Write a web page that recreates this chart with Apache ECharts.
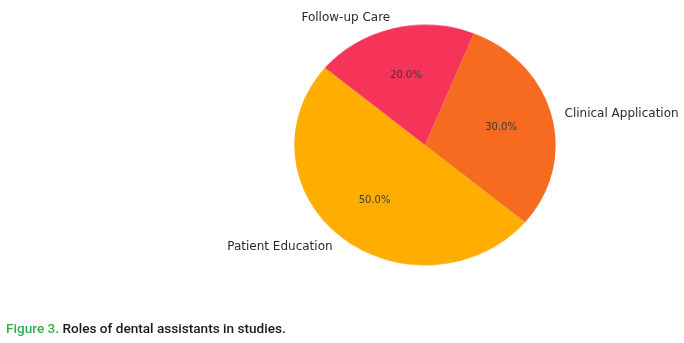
<!DOCTYPE html>
<html>
<head>
<meta charset="utf-8">
<script src="https://cdn.jsdelivr.net/npm/echarts@6/dist/echarts.min.js"></script>
<style>
html,body{margin:0;padding:0;background:#fff;}
#wrap{position:relative;width:684px;height:343px;overflow:hidden;}
#pie{position:absolute;left:0;top:0;width:684px;height:343px;transform-origin:425px 145px;transform:scaleY(0.9205);}
#txt{position:absolute;left:0;top:0;width:684px;height:343px;}
</style>
</head>
<body>
<div id="wrap"><div id="pie"></div><div id="txt"></div></div>
<script>
// Data
const categories = ['Patient Education', 'Clinical Application', 'Follow-up Care'];
const values = [50, 30, 20];
const colors = ['#FFAE00', '#F76B21', '#F63358'];
const caption = ['Figure 3.', ' Roles of dental assistants in studies.'];

const CX = 425, CY = 145, RX = 130.7, RY = 120.3, START = 140;
const total = values.reduce((a, b) => a + b, 0);
function midAngle(i) {
  let before = 0;
  for (let k = 0; k < i; k++) before += values[k];
  return (START + 360 * (before + values[i] / 2) / total) * Math.PI / 180;
}
const pieData = categories.map((c, i) => ({ name: c, value: values[i], itemStyle: { color: colors[i] } }));

const chartA = echarts.init(document.getElementById('pie'), null, { renderer: 'canvas' });
chartA.setOption({
  animation: false,
  series: [{
    type: 'pie',
    center: [CX, CY],
    radius: RX,
    startAngle: START,
    clockwise: false,
    label: { show: false },
    labelLine: { show: false },
    itemStyle: { borderWidth: 0 },
    data: pieData
  }]
});

const chartB = echarts.init(document.getElementById('txt'), null, { renderer: 'canvas' });
const ghost = categories.map((c, i) => ({ name: c, value: values[i], itemStyle: { color: 'rgba(0,0,0,0)' } }));
chartB.setOption({
  animation: false,
  backgroundColor: 'transparent',
  title: {
    left: 6, top: 323, padding: 0,
    text: '{g|' + caption[0] + '}{d|' + caption[1] + '}',
    textStyle: {
      rich: {
        g: { color: '#2DB24A', fontFamily: 'Roboto', fontSize: 13.6, fontWeight: 500 },
        d: { color: '#1a1a1a', fontFamily: 'Roboto', fontSize: 13.6, fontWeight: 500 }
      }
    }
  },
  series: [{
    type: 'pie', silent: true,
    center: [CX, CY], radius: RX, startAngle: START, clockwise: false,
    data: ghost,
    labelLine: { show: false },
    label: { show: true, position: 'outside', overflow: 'none', width: 300, formatter: '{b}', color: '#2b2b2b', fontFamily: 'DejaVu Sans', fontSize: 12 },
    labelLayout: function (p) {
      const a = midAngle(p.dataIndex);
      const x = CX + Math.cos(a) * 1.1 * RX, y = CY - Math.sin(a) * 1.1 * RY + 1;
      return { x: x, y: y, align: x >= CX ? 'left' : 'right', verticalAlign: 'middle' };
    }
  }, {
    type: 'pie', silent: true,
    center: [CX, CY], radius: RX, startAngle: START, clockwise: false,
    data: ghost,
    labelLine: { show: false },
    label: { show: true, position: 'inside', formatter: function (p) { return p.percent.toFixed(1) + '%'; }, color: '#3a3a3a', fontFamily: 'DejaVu Sans', fontSize: 10 },
    labelLayout: function (p) {
      const a = midAngle(p.dataIndex);
      return { x: CX + Math.cos(a) * 0.6 * RX, y: CY - Math.sin(a) * 0.6 * RY, align: 'center', verticalAlign: 'middle' };
    }
  }]
});
</script>
</body>
</html>
